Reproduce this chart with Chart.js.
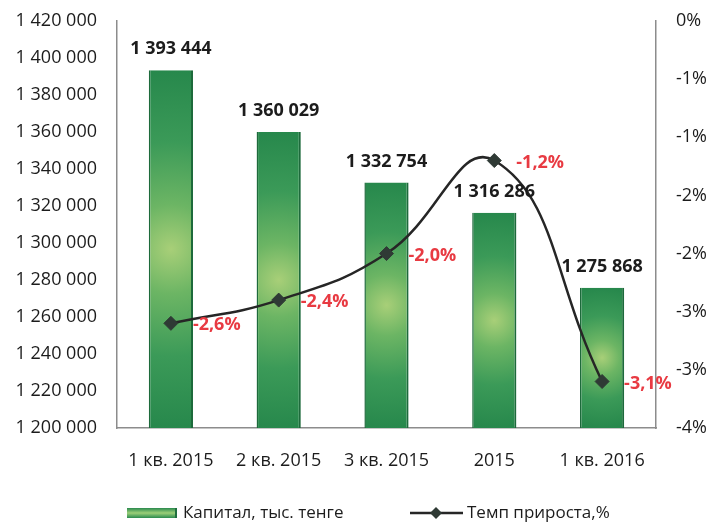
<!DOCTYPE html>
<html><head><meta charset="utf-8">
<script src="https://cdn.jsdelivr.net/npm/chart.js@4/dist/chart.umd.min.js"></script>
<style>html,body{margin:0;padding:0;background:#fff}#wrap{width:708px;height:524px}</style>
</head><body><div id="wrap"><canvas id="c" width="708" height="524"></canvas></div>
<script>
const categories = ['1 кв. 2015', '2 кв. 2015', '3 кв. 2015', '2015', '1 кв. 2016'];
const capital = [1393444, 1360029, 1332754, 1316286, 1275868];
const growth = [-2.6, -2.4, -2.0, -1.2, -3.1];
const seriesNames = ['Капитал, тыс. тенге', 'Темп прироста,%'];
const leftAxis = { min: 1200000, max: 1420000, step: 20000 };
const rightAxis = { min: -3.5, max: 0, step: 0.5 };

const FONT = "'Open Sans', 'Liberation Sans', sans-serif";
const BAR_PCT = 0.41;
const TEXT = '#1c1c1c';
const RED = '#e83a42';
const AXIS = '#8c8c8c';

function fmtThousands(v) { return String(v).replace(/\B(?=(\d{3})+(?!\d))/g, ' '); }
function fmtPctTick(v) {
  const r = Math.round(Math.abs(v) + 1e-9);
  return (v < 0 && r !== 0 ? '-' : '') + r + '%';
}
function fmtGrowth(v) { return v.toFixed(1).replace('.', ',') + '%'; }

function barFill(c) {
  const chart = c.chart;
  const xs = chart.scales.x, ys = chart.scales.y;
  if (!xs || !ys || !chart.chartArea || c.type !== 'data') return '#3a9a5a';
  const cx = xs.getPixelForValue(c.dataIndex);
  const top = ys.getPixelForValue(capital[c.dataIndex]);
  const bottom = ys.bottom;
  const cy = (top + bottom) / 2;
  const r = Math.max((bottom - top) / 2, 30);
  const g = chart.ctx.createRadialGradient(cx, cy, 0, cx, cy, r);
  g.addColorStop(0, '#a8cf78');
  g.addColorStop(0.25, '#6cb564');
  g.addColorStop(0.6, '#3b9a58');
  g.addColorStop(1, '#27884c');
  return g;
}

const labelPlugin = {
  id: 'labels',
  afterDatasetsDraw(chart) {
    const ctx = chart.ctx;
    const barMeta = chart.getDatasetMeta(0);
    const lineMeta = chart.getDatasetMeta(1);
    ctx.save();
    ctx.font = 'bold 18px ' + FONT;
    ctx.fillStyle = TEXT;
    ctx.textAlign = 'center';
    ctx.textBaseline = 'middle';
    barMeta.data.forEach((el, i) => {
      ctx.fillText(fmtThousands(capital[i]), el.x, el.y - 21);
    });
    ctx.fillStyle = RED;
    ctx.textAlign = 'left';
    lineMeta.data.forEach((el, i) => {
      ctx.fillText(fmtGrowth(growth[i]), el.x + 22, el.y + 2);
    });
    ctx.restore();
  }
};

const legendPlugin = {
  id: 'customLegend',
  afterDraw(chart) {
    const ctx = chart.ctx;
    const y = 513;
    ctx.save();
    const g = ctx.createLinearGradient(0, y - 5, 0, y + 5);
    g.addColorStop(0, '#2a8a4e');
    g.addColorStop(0.5, '#9ccf78');
    g.addColorStop(1, '#2a8a4e');
    ctx.fillStyle = g;
    ctx.fillRect(127, y - 5, 50, 10);
    ctx.fillStyle = '#1f6e3e';
    ctx.fillRect(175, y - 5, 2, 10);
    ctx.font = '17px ' + FONT;
    ctx.fillStyle = TEXT;
    ctx.textAlign = 'left';
    ctx.textBaseline = 'middle';
    ctx.fillText(seriesNames[0], 183, y);
    ctx.strokeStyle = '#262626';
    ctx.lineWidth = 2.5;
    ctx.beginPath();
    ctx.moveTo(410, y); ctx.lineTo(463, y);
    ctx.stroke();
    ctx.fillStyle = '#2f3a35';
    ctx.beginPath();
    ctx.moveTo(436, y - 6); ctx.lineTo(442, y); ctx.lineTo(436, y + 6); ctx.lineTo(430, y);
    ctx.closePath(); ctx.fill();
    ctx.fillStyle = TEXT;
    ctx.fillText(seriesNames[1], 467, y);
    ctx.restore();
  }
};

new Chart(document.getElementById('c'), {
  data: {
    labels: categories,
    datasets: [
      {
        type: 'bar',
        label: seriesNames[0],
        data: capital,
        yAxisID: 'y',
        order: 1,
        backgroundColor: barFill,
        borderColor: '#1d6a3b',
        borderWidth: { left: 1.5, right: 2, top: 0, bottom: 0 },
        borderSkipped: false,
        categoryPercentage: 1,
        barPercentage: BAR_PCT
      },
      {
        type: 'line',
        label: seriesNames[1],
        data: growth,
        yAxisID: 'y1',
        order: 0,
        borderColor: '#262626',
        borderWidth: 2.5,
        tension: 0.45,
        pointStyle: 'rectRot',
        pointRadius: 7,
        pointBackgroundColor: '#2f3a35',
        pointBorderColor: '#2f3a35',
        pointBorderWidth: 1
      }
    ]
  },
  options: {
    responsive: false,
    animation: false,
    events: [],
    layout: { padding: { top: 21, left: 0, right: 0, bottom: 0 } },
    plugins: { legend: { display: false }, tooltip: { enabled: false } },
    scales: {
      x: {
        grid: { display: false, drawTicks: false },
        border: { display: true, color: AXIS, width: 1.5 },
        ticks: { color: TEXT, font: { family: FONT, size: 18 }, padding: 22, maxRotation: 0 },
        afterFit(s) { s.height = 96; }
      },
      y: {
        position: 'left',
        min: leftAxis.min, max: leftAxis.max,
        grid: { display: false, drawTicks: false },
        border: { display: true, color: AXIS, width: 1.5 },
        ticks: {
          stepSize: leftAxis.step, color: TEXT, padding: 20,
          font: { family: FONT, size: 18 },
          callback: v => fmtThousands(v)
        },
        afterFit(s) { s.width = 117; s.paddingTop = 10; s.paddingBottom = 10; }
      },
      y1: {
        position: 'right',
        min: rightAxis.min, max: rightAxis.max,
        grid: { display: false, drawTicks: false },
        border: { display: true, color: AXIS, width: 1.5 },
        ticks: {
          stepSize: rightAxis.step, color: TEXT, padding: 20,
          font: { family: FONT, size: 18 },
          callback: v => fmtPctTick(v)
        },
        afterFit(s) { s.width = 52; s.paddingTop = 10; s.paddingBottom = 10; }
      }
    }
  },
  plugins: [labelPlugin, legendPlugin]
});
</script>
</body></html>
